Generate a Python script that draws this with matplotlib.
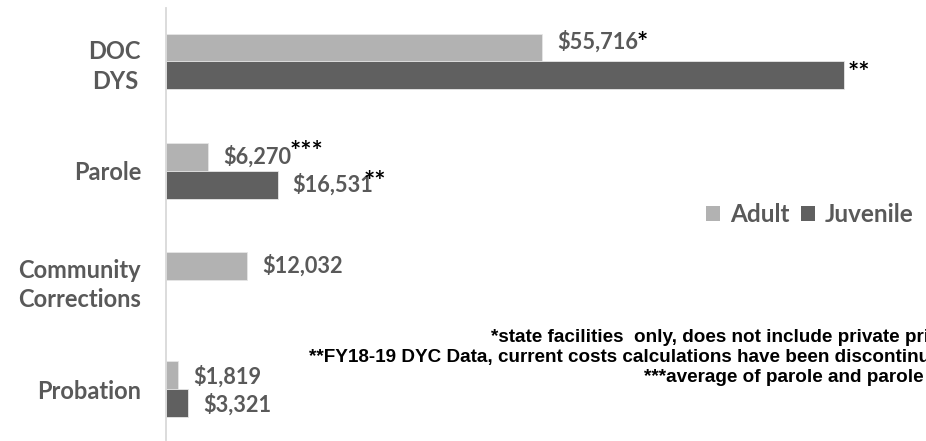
import matplotlib
matplotlib.use('Agg')
import matplotlib.pyplot as plt
from matplotlib.patches import Patch
import numpy as np

categories = ["DOC\nDYS", "Parole", "Community\nCorrections", "Probation"]
adult = [55716, 6270, 12032, 1819]
juvenile = [100470, 16531, np.nan, 3321]
adult_labels = ["$55,716", "$6,270", "$12,032", "$1,819"]
juvenile_labels = ["", "$16,531", "", "$3,321"]
adult_notes = ["*", "***", "", ""]
juvenile_notes = ["**", "**", "", ""]
series_names = ["Adult", "Juvenile"]
footnotes = [
    "*state facilities  only, does not include private prisons",
    "**FY18-19 DYC Data, current costs calculations have been discontinued",
    "***average of parole and parole ISP",
]

ADULT_C = '#b2b2b2'
JUV_C = '#606060'
TXT_C = '#595959'
FONT = 'Lato'

W, H = 926, 441
PX = 72 / 100  # points per pixel
fig = plt.figure(figsize=(W / 100, H / 100), dpi=100)
ax = fig.add_axes([166 / W, 1 - 440 / H, (W - 166) / W, 432 / H])

y = np.arange(len(categories))
bh = 0.256
off = 0.128
ya = y - off
yj = y + off
ax.barh(ya, adult, height=bh, color=ADULT_C, edgecolor='#e6e6e6', linewidth=0.6)
jv = np.array(juvenile, dtype=float)
mask = ~np.isnan(jv)
ax.barh(yj[mask], jv[mask], height=bh, color=JUV_C, edgecolor='#e6e6e6', linewidth=0.6)

ax.set_xlim(0, 112600)
ax.set_ylim(3.467, -0.49)

label_kw = dict(textcoords='offset points', ha='left', va='center',
                fontsize=15.7, fontweight='bold', color=TXT_C, family=FONT)
note_kw = dict(textcoords='offset points', ha='left', va='center',
               fontsize=19, fontweight='bold', color='black', family=FONT)

# small per-label nudges (pixels) to mimic the hand-placed text boxes
adult_label_dy = [6, 0, 0, -2]
juv_label_dy = [0, 0, 0, -2]
adult_note_d = [(-1, -1), (-2, 5), None, None]
juv_note_d = [(3, 2), (-10, 3), None, None]

for i in range(len(categories)):
    t = ax.annotate(adult_labels[i], xy=(adult[i], ya[i]),
                    xytext=(15 * PX, adult_label_dy[i] * PX), **label_kw)
    if adult_notes[i]:
        dx, dy = adult_note_d[i]
        ax.annotate(adult_notes[i], xy=(1, 0.5), xycoords=t,
                    xytext=(dx * PX, dy * PX), **note_kw)
    if not mask[i]:
        continue
    if juvenile_labels[i]:
        t = ax.annotate(juvenile_labels[i], xy=(jv[i], yj[i]),
                        xytext=(15 * PX, juv_label_dy[i] * PX), **label_kw)
        if juvenile_notes[i]:
            dx, dy = juv_note_d[i]
            ax.annotate(juvenile_notes[i], xy=(1, 0.5), xycoords=t,
                        xytext=(dx * PX, dy * PX), **note_kw)
    elif juvenile_notes[i]:
        dx, dy = juv_note_d[i]
        ax.annotate(juvenile_notes[i], xy=(jv[i], yj[i]),
                    xytext=(dx * PX, dy * PX), **note_kw)

ax.set_yticks(y)
ax.set_yticklabels(categories)
for lab in ax.get_yticklabels():
    lab.set_multialignment('center')
    lab.set_fontsize(17)
    lab.set_fontweight('bold')
    lab.set_color(TXT_C)
    lab.set_family(FONT)
    lab.set_linespacing(1.33)
ax.tick_params(axis='y', length=0, pad=18)
ax.set_xticks([])
for s in ['top', 'right', 'bottom']:
    ax.spines[s].set_visible(False)
ax.spines['left'].set_color('#d9d9d9')
ax.spines['left'].set_linewidth(1.3)

handles = [Patch(facecolor=ADULT_C, edgecolor='none'), Patch(facecolor=JUV_C, edgecolor='none')]
leg = fig.legend(handles, series_names, loc='center', bbox_to_anchor=(810 / W, 1 - 215 / H),
                 ncol=2, frameon=False, handlelength=0.58, handleheight=0.58,
                 handletextpad=0.41, columnspacing=0.45, borderpad=0, borderaxespad=0,
                 prop=dict(family=FONT, weight='bold', size=17.5))
for t in leg.get_texts():
    t.set_color(TXT_C)

foot_x = [491, 309, 644]
foot_base = [342, 362, 382]
for k, line in enumerate(footnotes):
    fig.text(foot_x[k] / W, 1 - foot_base[k] / H, line, ha='left', va='baseline',
             family='Liberation Sans', fontweight='bold', fontsize=13.6, color='black')

fig.savefig('out.png', dpi=100)
